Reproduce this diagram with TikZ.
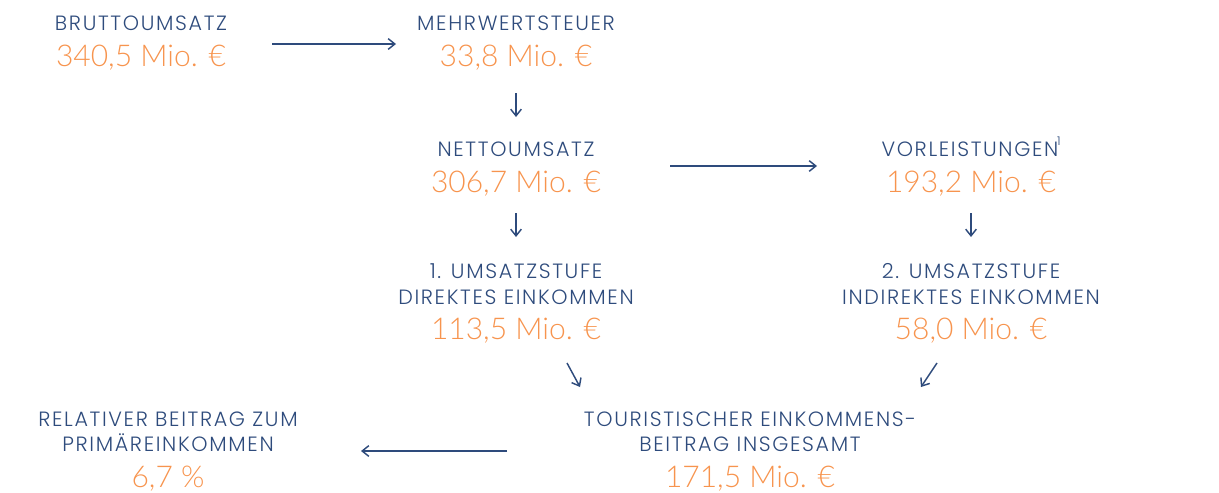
\documentclass[tikz,border=0pt]{standalone}
\usepackage{fontspec}
\usetikzlibrary{arrows.meta}
\newfontfamily\lblfont{Poppins Light}[LetterSpace=8]
\newfontfamily\numfont{Lato Light}
\definecolor{navy}{HTML}{2E4B7C}
\definecolor{amber}{HTML}{F7944E}
\newcommand\notemark[1]{\raisebox{0.5em}{\fontsize{9}{9}\selectfont #1}}
\tikzset{
  lbl/.style={anchor=base, inner sep=0pt, text=navy, font=\lblfont\fontsize{15.5}{18}\selectfont},
  num/.style={anchor=base, inner sep=0pt, text=amber, font=\numfont\fontsize{22.5}{27}\selectfont},
  arr/.style={draw=navy, line width=1.1pt, -{Straight Barb[length=5pt,width=8pt,line width=1.1pt]}}
}
\begin{document}
\begin{tikzpicture}[x=0.75pt,y=-0.75pt]
\useasboundingbox (0,0) rectangle (1219,492);
% top row
\node[lbl] (brL) at (141,31) {BRUTTOUMSATZ};
\node[num] (brN) at (141,67) {340,5 Mio. €};
\node[lbl] (mwL) at (516,31) {MEHRWERTSTEUER};
\node[num] (mwN) at (516,67) {33,8 Mio. €};
% second row
\node[lbl] (neL) at (516,156) {NETTOUMSATZ};
\node[num] (neN) at (516,192) {306,7 Mio. €};
\node[lbl] (voL) at (971,156) {VORLEISTUNGEN\kern-1pt\notemark{1}};
\node[num] (voN) at (971,192) {193,2 Mio. €};
% third row
\node[lbl] (u1a) at (516,278) {1. UMSATZSTUFE};
\node[lbl] (u1b) at (516,304) {DIREKTES EINKOMMEN};
\node[num] (u1N) at (516,339) {113,5 Mio. €};
\node[lbl] (u2a) at (971,278) {2. UMSATZSTUFE};
\node[lbl] (u2b) at (971,304) {INDIREKTES EINKOMMEN};
\node[num] (u2N) at (971,339) {58,0 Mio. €};
% bottom row
\node[lbl] (toa) at (750,426) {TOURISTISCHER EINKOMMENS-};
\node[lbl] (tob) at (750,451) {BEITRAG INSGESAMT};
\node[num] (toN) at (750,487) {171,5 Mio. €};
\node[lbl] (rea) at (168,426) {RELATIVER BEITRAG ZUM};
\node[lbl] (reb) at (168,451) {PRIMÄREINKOMMEN};
\node[num] (reN) at (168,487) {6,7 \%};
% arrow end points
\coordinate (a1s) at (272,44);  \coordinate (a1e) at (396,44);
\coordinate (a2s) at (516,93);  \coordinate (a2e) at (516,117);
\coordinate (a3s) at (670,166); \coordinate (a3e) at (817,166);
\coordinate (a4s) at (516,213); \coordinate (a4e) at (516,237);
\coordinate (a5s) at (971,213); \coordinate (a5e) at (971,237);
\coordinate (a6s) at (567,363); \coordinate (a6e) at (580,387);
\coordinate (a7s) at (937,363); \coordinate (a7e) at (921,387);
\coordinate (a8s) at (507,451); \coordinate (a8e) at (361,451);
\foreach \a in {1,...,8} \draw[arr] (a\a s) -- (a\a e);
\end{tikzpicture}
\end{document}
